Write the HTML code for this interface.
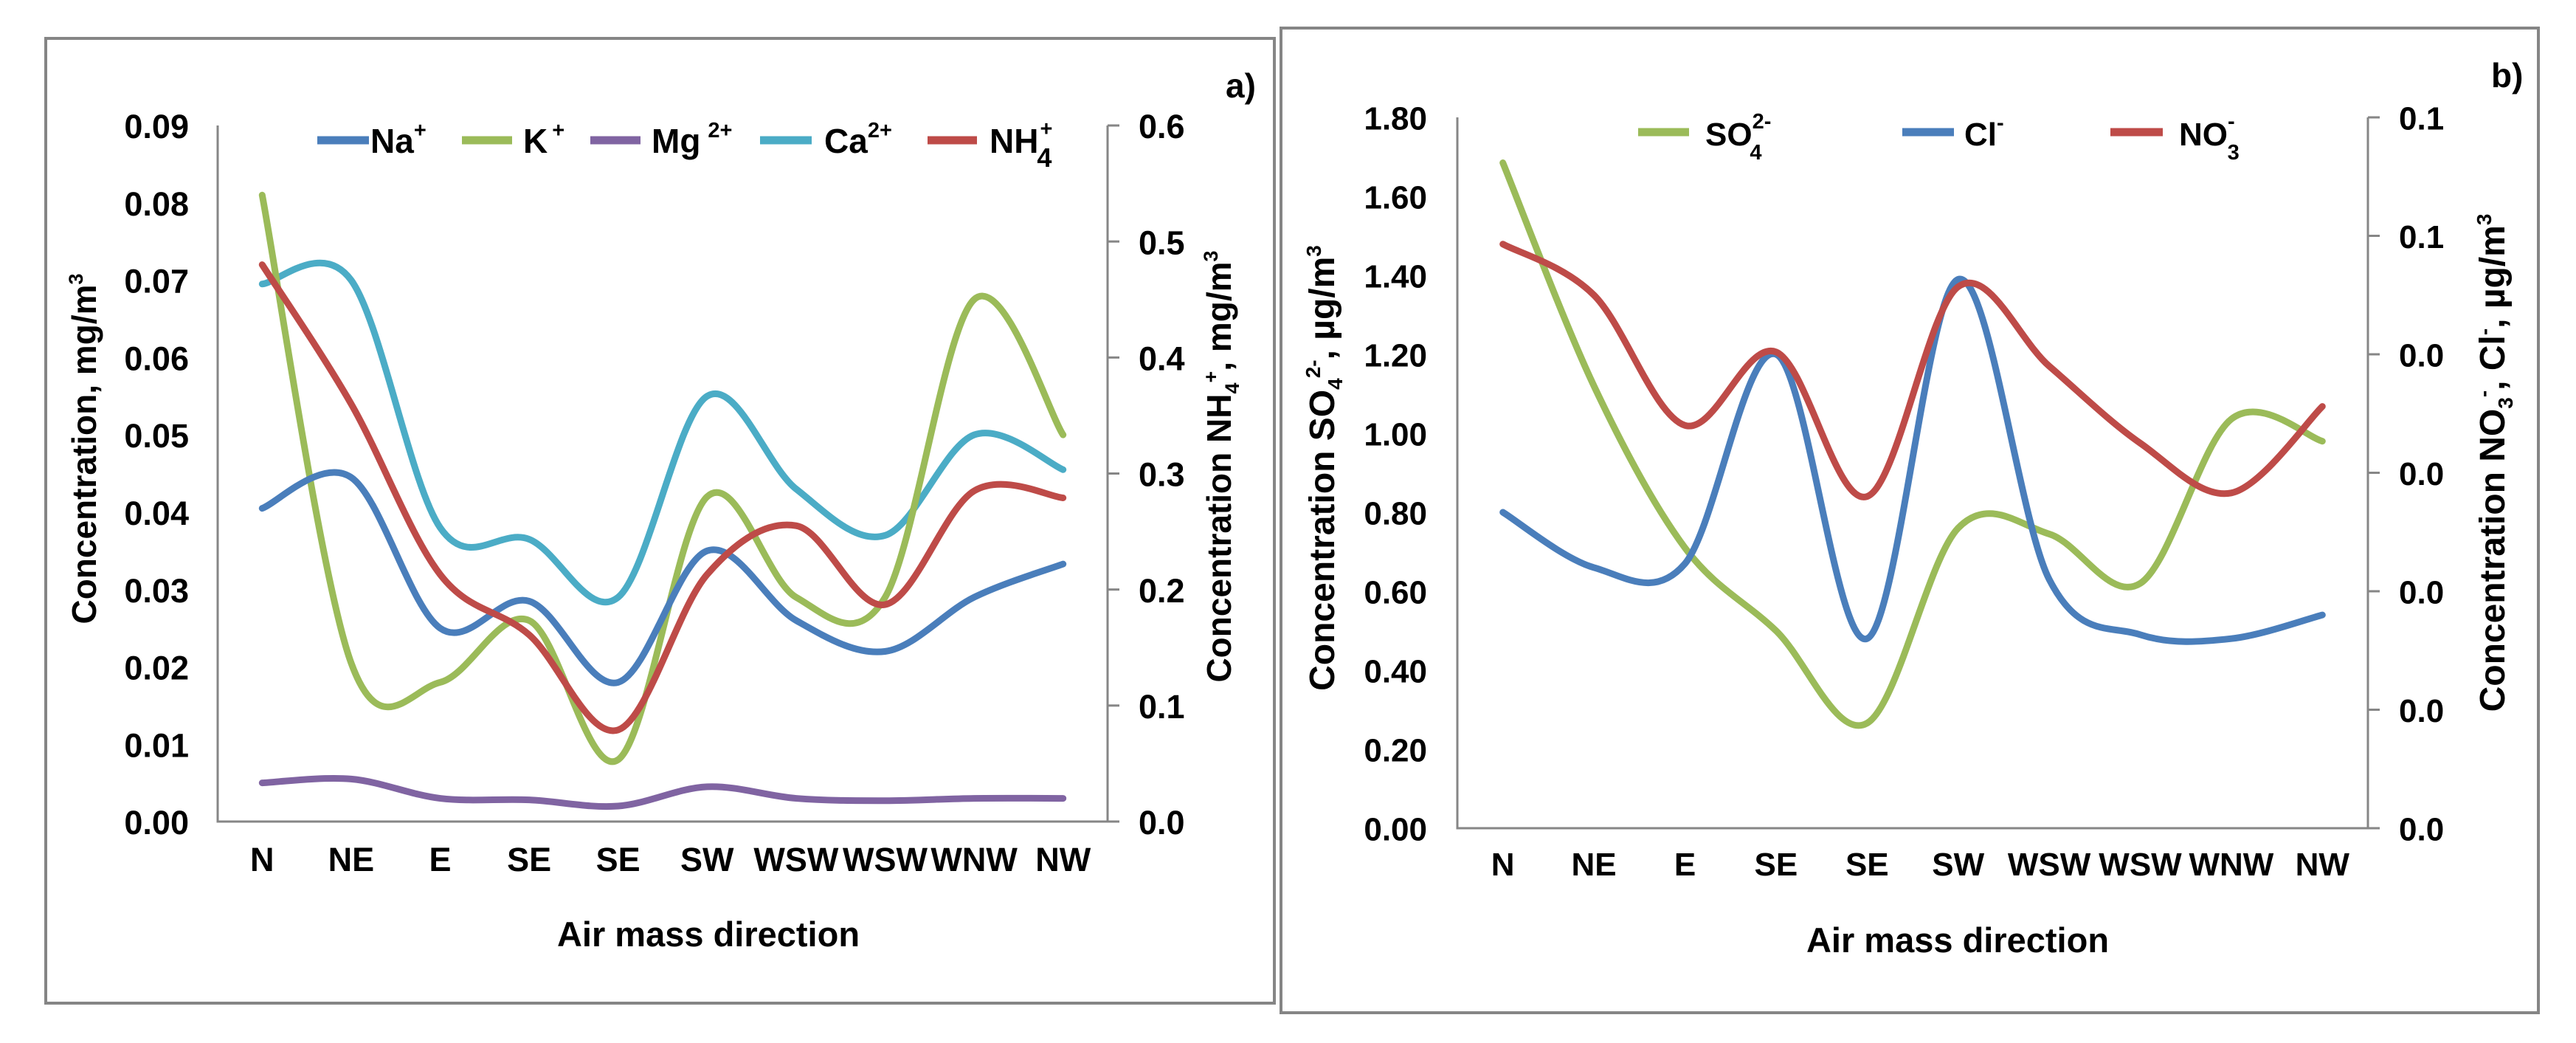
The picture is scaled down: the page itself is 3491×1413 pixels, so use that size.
<!DOCTYPE html>
<html><head><meta charset="utf-8"><style>
html,body{margin:0;padding:0;background:#fff;}
svg{display:block;font-family:"Liberation Sans",Arial,sans-serif;font-weight:bold;}
</style></head><body>
<svg id="root" width="3491" height="1413" viewBox="0 0 3491 1413" xmlns="http://www.w3.org/2000/svg">
<rect x="0" y="0" width="3491" height="1413" fill="#fff"/>
<rect x="62" y="52" width="1665" height="1307" fill="none" stroke="#858585" stroke-width="4"/>
<rect x="1736" y="38" width="1704" height="1334" fill="none" stroke="#858585" stroke-width="4"/>
<g id="ga"></g>
<g id="gb"></g>

<!-- Panel a texts -->
<text x="1661" y="132" font-size="46">a)</text>
<text x="960" y="1282" font-size="47" text-anchor="middle">Air mass direction</text>
<text transform="translate(130,608) rotate(-90)" font-size="46" text-anchor="middle">Concentration, mg/m<tspan font-size="27" dy="-18">3</tspan></text>
<text transform="translate(1668,632) rotate(-90)" font-size="46" text-anchor="middle">Concentration NH<tspan font-size="27" dy="11">4</tspan><tspan font-size="27" dy="-29">+</tspan><tspan dy="18">, mg/m</tspan><tspan font-size="27" dy="-18">3</tspan></text>

<g font-size="46">
 <g><line x1="430" y1="190" x2="500" y2="190" stroke="#4a7ebb" stroke-width="11"/><text x="502" y="207">Na<tspan font-size="29" dy="-21">+</tspan></text></g>
 <g><line x1="626" y1="190" x2="694" y2="190" stroke="#9bbb59" stroke-width="11"/><text x="709" y="207">K<tspan font-size="29" dy="-21" dx="6">+</tspan></text></g>
 <g><line x1="800" y1="190" x2="868" y2="190" stroke="#8064a2" stroke-width="11"/><text x="883" y="207">Mg<tspan font-size="29" dy="-21" dx="10">2+</tspan></text></g>
 <g><line x1="1030" y1="190" x2="1100" y2="190" stroke="#4bacc6" stroke-width="11"/><text x="1117" y="207">Ca<tspan font-size="29" dy="-21">2+</tspan></text></g>
 <g><line x1="1257" y1="190" x2="1324" y2="190" stroke="#be4b48" stroke-width="11"/><text x="1341" y="207">NH<tspan font-size="29" dx="2" dy="-23">+</tspan><tspan font-size="36" dx="-21" dy="42">4</tspan></text></g>
</g>

<!-- Panel b texts -->
<text x="3376" y="118" font-size="46">b)</text>
<text x="2653" y="1290" font-size="47" text-anchor="middle">Air mass direction</text>
<text transform="translate(1808,634) rotate(-90)" font-size="48" text-anchor="middle">Concentration SO<tspan font-size="28" dy="11">4</tspan><tspan font-size="28" dy="-30">2-</tspan><tspan dy="19">, µg/m</tspan><tspan font-size="28" dy="-18">3</tspan></text>
<text transform="translate(3394,627) rotate(-90)" font-size="48" text-anchor="middle">Concentration NO<tspan font-size="28" dy="11">3</tspan><tspan font-size="28" dy="-30">-</tspan><tspan dy="19">, Cl</tspan><tspan font-size="28" dy="-18">-</tspan><tspan dy="18">, µg/m</tspan><tspan font-size="28" dy="-18">3</tspan></text>

<g font-size="44">
 <g><line x1="2220" y1="179" x2="2289" y2="179" stroke="#9bbb59" stroke-width="11"/><text x="2311" y="197">SO<tspan font-size="29" dy="-23">2-</tspan><tspan font-size="29" dx="-29" dy="42">4</tspan></text></g>
 <g><line x1="2578" y1="179" x2="2648" y2="179" stroke="#4a7ebb" stroke-width="11"/><text x="2662" y="197">Cl<tspan font-size="29" dy="-21">-</tspan></text></g>
 <g><line x1="2860" y1="179" x2="2931" y2="179" stroke="#be4b48" stroke-width="11"/><text x="2953" y="197">NO<tspan font-size="29" dy="-23">-</tspan><tspan font-size="29" dx="-10" dy="42">3</tspan></text></g>
</g>
</svg>
<script>
const NS="http://www.w3.org/2000/svg";
// ---- Panel a data ----
const catsA=["N","NE","E","SE","SE","SW","WSW","WSW","WNW","NW"];
const ticksALeft=["0.00","0.01","0.02","0.03","0.04","0.05","0.06","0.07","0.08","0.09"];
const ticksARight=["0.0","0.1","0.2","0.3","0.4","0.5","0.6"];
const naVals=[0.0405,0.0445,0.025,0.0285,0.018,0.035,0.026,0.022,0.029,0.0333];
const kVals=[0.081,0.0205,0.018,0.026,0.008,0.042,0.029,0.029,0.0675,0.050];
const mgVals=[0.005,0.0055,0.003,0.0028,0.002,0.0045,0.003,0.0027,0.003,0.003];
const caVals=[0.0695,0.070,0.038,0.0365,0.029,0.055,0.043,0.037,0.050,0.0455];
const nh4Vals=[0.48,0.36,0.213,0.161,0.079,0.213,0.255,0.187,0.285,0.279];
// ---- Panel b data ----
const catsB=["N","NE","E","SE","SE","SW","WSW","WSW","WNW","NW"];
const ticksBLeft=["0.00","0.20","0.40","0.60","0.80","1.00","1.20","1.40","1.60","1.80"];
const ticksBRight=["0.0","0.0","0.0","0.0","0.0","0.1","0.1"];
const so4Vals=[1.685,1.12,0.71,0.50,0.266,0.76,0.745,0.62,1.036,0.98];
const clVals=[0.80,0.66,0.67,1.20,0.48,1.39,0.63,0.49,0.48,0.54];
const no3Vals=[0.0493,0.045,0.034,0.0402,0.028,0.0457,0.039,0.0325,0.0283,0.0356];

function el(tag,attrs,parent){const e=document.createElementNS(NS,tag);for(const k in attrs)e.setAttribute(k,attrs[k]);parent.appendChild(e);return e;}
function smooth(pts){let d="M"+pts[0][0]+","+pts[0][1];for(let i=0;i<pts.length-1;i++){const p0=pts[Math.max(0,i-1)],p1=pts[i],p2=pts[i+1],p3=pts[Math.min(pts.length-1,i+2)];const c1=[p1[0]+(p2[0]-p0[0])/6,p1[1]+(p2[1]-p0[1])/6];const c2=[p2[0]-(p3[0]-p1[0])/6,p2[1]-(p3[1]-p1[1])/6];d+=" C"+c1.join(",")+" "+c2.join(",")+" "+p2.join(",");}return d;}

function chart(g,cfg){
  const {x0,x1,yTop,yBot,cats,lt,rt,lmax,rmax,fs,ltx,rtx,xly}=cfg;
  const step=(x1-x0)/cats.length;
  const xs=i=>x0+step*(i+0.5);
  const yL=v=>yBot-(v/lmax)*(yBot-yTop);
  const yR=v=>yBot-(v/rmax)*(yBot-yTop);
  const ax=el("path",{d:`M${x0},${yTop} L${x0},${yBot} L${x1},${yBot} L${x1},${yTop}`,fill:"none",stroke:"#868686","stroke-width":3},g);
  
  
  lt.forEach((t,i)=>{const y=yBot-i*(yBot-yTop)/(lt.length-1);
    const tx=el("text",{x:ltx,y:y+fs*0.38,"font-size":fs,"text-anchor":"end"},g);tx.textContent=t;
    
    });
  rt.forEach((t,i)=>{const y=yBot-i*(yBot-yTop)/(rt.length-1);
    const tk=el("line",{x1:x1,y1:y,x2:x1+16,y2:y,stroke:"#868686","stroke-width":3},g);
    
    
    const tx=el("text",{x:rtx,y:y+fs*0.38,"font-size":fs},g);tx.textContent=t;
    
    });
  cats.forEach((c,i)=>{const tx=el("text",{x:xs(i),y:xly,"font-size":fs,"text-anchor":"middle"},g);tx.textContent=c;
    
    });
  return {xs,yL,yR};
}
function series(g,vals,xs,yf,color,name){
  const p=el("path",{d:smooth(vals.map((v,i)=>[xs(i),yf(v)])),fill:"none",stroke:color,"stroke-width":9,"stroke-linecap":"round","stroke-linejoin":"round"},g);
  
  
}
const ga=document.getElementById("ga");
const A=chart(ga,{x0:295,x1:1501,yTop:170,yBot:1113,cats:catsA,lt:ticksALeft,rt:ticksARight,lmax:0.09,rmax:0.6,fs:45,ltx:256,rtx:1543,xly:1180});
series(ga,caVals,A.xs,A.yL,"#4bacc6","series-ca");
series(ga,kVals,A.xs,A.yL,"#9bbb59","series-k");
series(ga,naVals,A.xs,A.yL,"#4a7ebb","series-na");
series(ga,mgVals,A.xs,A.yL,"#8064a2","series-mg");
series(ga,nh4Vals,A.xs,A.yR,"#be4b48","series-nh4");
const gb=document.getElementById("gb");
const B=chart(gb,{x0:1975,x1:3209,yTop:159,yBot:1122,cats:catsB,lt:ticksBLeft,rt:ticksBRight,lmax:1.8,rmax:0.06,fs:44,ltx:1934,rtx:3251,xly:1186});
series(gb,so4Vals,B.xs,B.yL,"#9bbb59","series-so4");
series(gb,clVals,B.xs,B.yL,"#4a7ebb","series-cl");
series(gb,no3Vals,B.xs,B.yR,"#be4b48","series-no3");
</script>
</body></html>
